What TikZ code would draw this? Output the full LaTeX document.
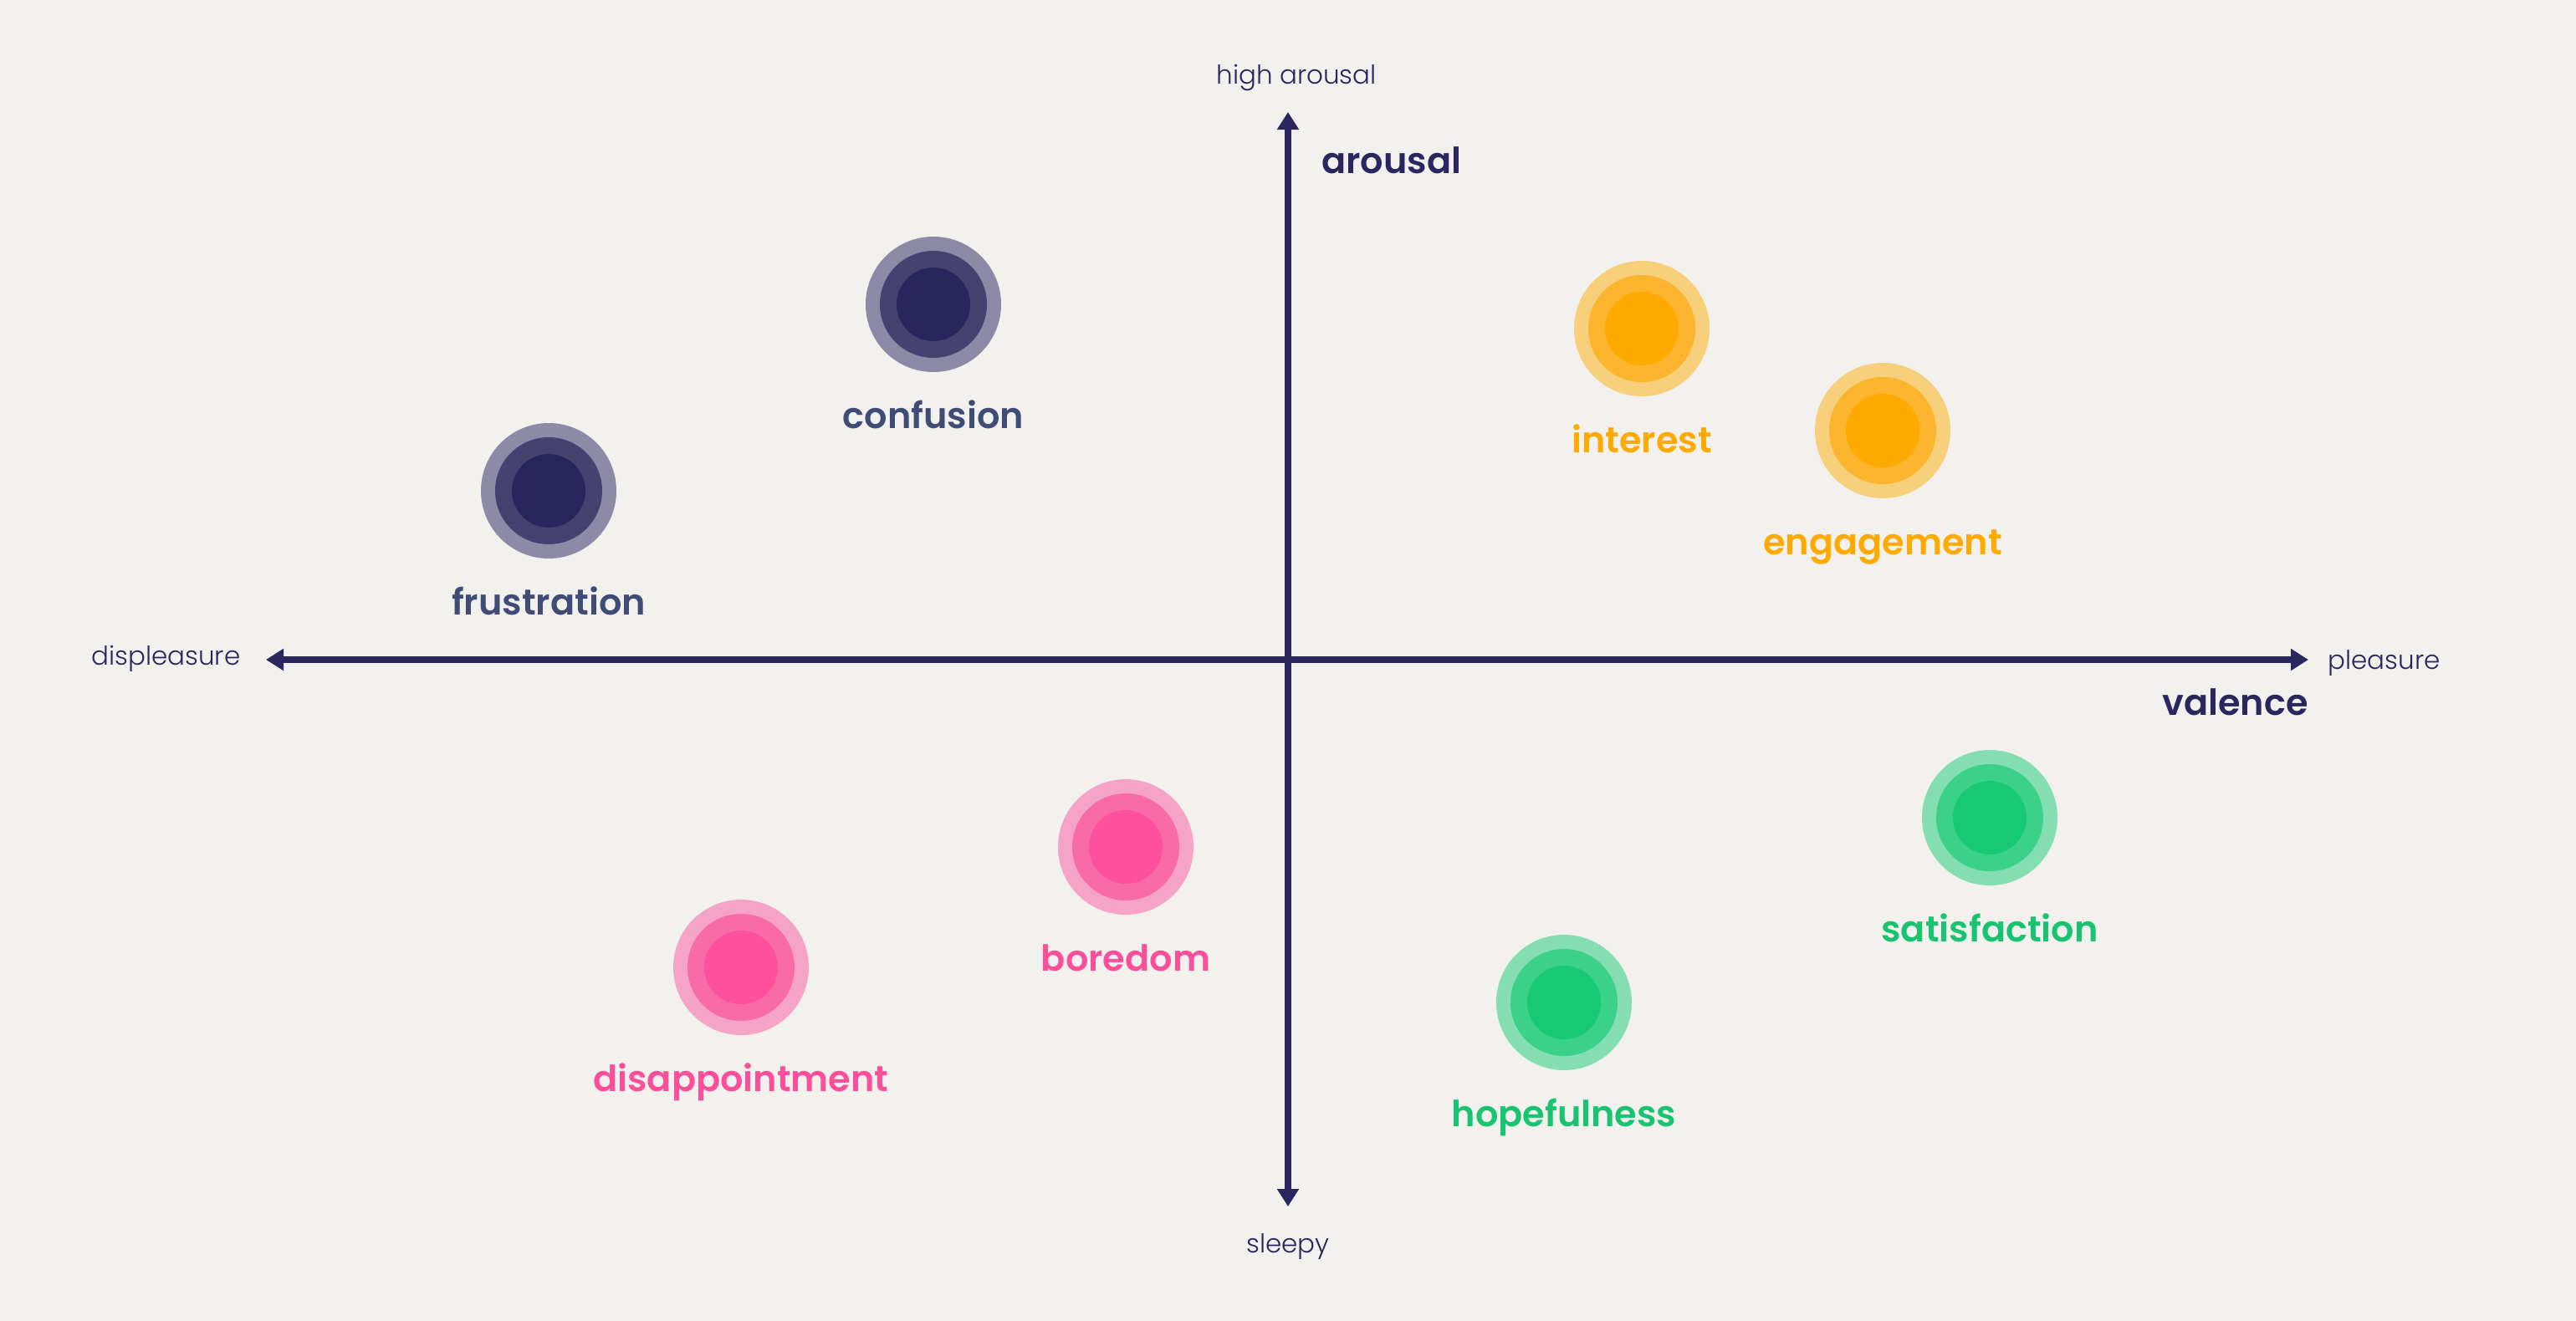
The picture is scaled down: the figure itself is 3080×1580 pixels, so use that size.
\documentclass[tikz,border=0pt]{standalone}
\usepackage{fontspec}
\setmainfont{Poppins}[BoldFont={Poppins SemiBold}]
\newfontfamily\thinfont{Poppins Light}
\usetikzlibrary{arrows.meta}
\definecolor{bgc}{HTML}{F2F1ED}
\definecolor{axisc}{HTML}{2A265E}
\definecolor{navyo}{HTML}{8D8AA7}
\definecolor{navym}{HTML}{46416F}
\definecolor{navyi}{HTML}{29265D}
\definecolor{navyl}{HTML}{3F4C75}
\definecolor{orango}{HTML}{F8CF7A}
\definecolor{orangm}{HTML}{FDB52F}
\definecolor{orangi}{HTML}{FFAA00}
\definecolor{orangl}{HTML}{FFAA00}
\definecolor{pinko}{HTML}{F5A4C7}
\definecolor{pinkm}{HTML}{F96BA6}
\definecolor{pinki}{HTML}{FD509D}
\definecolor{pinkl}{HTML}{FB4F9B}
\definecolor{greeno}{HTML}{84DEB1}
\definecolor{greenm}{HTML}{3BD189}
\definecolor{greeni}{HTML}{16C972}
\definecolor{greenl}{HTML}{18C46F}
\tikzset{
  axisline/.style={draw=axisc, line width=4pt,
    {Triangle[width=12.5pt,length=10.5pt]}-{Triangle[width=12.5pt,length=10.5pt]}},
  ticktext/.style={text=axisc, font=\thinfont\fontsize{15.5}{18}\selectfont, inner sep=0pt},
  axistitle/.style={text=axisc, font=\fontsize{21.5}{25}\selectfont\bfseries, inner sep=0pt},
  ringout/.style={circle, inner sep=0pt, minimum size=81pt},
  ringmid/.style={circle, inner sep=0pt, minimum size=64pt},
  ringin/.style={circle, inner sep=0pt, minimum size=44pt},
  emolabel/.style={font=\fontsize{21.5}{25}\selectfont\bfseries, inner sep=0pt, anchor=base},
}
\newcommand\emotion[5]{%
  \node[ringout, fill=#4o] (#1) at (#2,#3) {};
  \node[ringmid, fill=#4m] (#1-m) at (#1) {};
  \node[ringin, fill=#4i] (#1-i) at (#1) {};
  \node[emolabel, text=#4l] (#1-l) at (#2,#3+148) {#5};
}
\begin{document}
\begin{tikzpicture}[x=0.5pt,y=-0.5pt]
\fill[bgc] (0,0) rectangle (3080,1580);
\useasboundingbox (0,0) rectangle (3080,1580);
\coordinate (ytop) at (1540,134);
\coordinate (ybot) at (1540,1443);
\coordinate (xleft) at (318,789);
\coordinate (xright) at (2760,789);
\draw[axisline] (xleft) -- (xright);
\draw[axisline] (ybot) -- (ytop);
\node[ticktext, anchor=base] (high) at (1550,100) {high arousal};
\node[ticktext, anchor=base] (sleepy) at (1540,1498) {sleepy};
\node[ticktext, anchor=base west] (displ) at (109,795) {displeasure};
\node[ticktext, anchor=base west] (pleas) at (2783,800) {pleasure};
\node[axistitle, anchor=base west] (arousal) at (1580,207) {arousal};
\node[axistitle, anchor=base east] (valence) at (2760,855) {valence};
\emotion{frustration}{656}{587}{navy}{frustration}
\emotion{confusion}{1116}{364}{navy}{confusion}
\emotion{interest}{1963}{393}{orang}{interest}
\emotion{engagement}{2251}{515}{orang}{engagement}
\emotion{satisfaction}{2379}{978}{green}{satisfaction}
\emotion{hopefulness}{1870}{1199}{green}{hopefulness}
\emotion{boredom}{1346}{1013}{pink}{boredom}
\emotion{disappointment}{886}{1157}{pink}{disappointment}
\end{tikzpicture}
\end{document}
